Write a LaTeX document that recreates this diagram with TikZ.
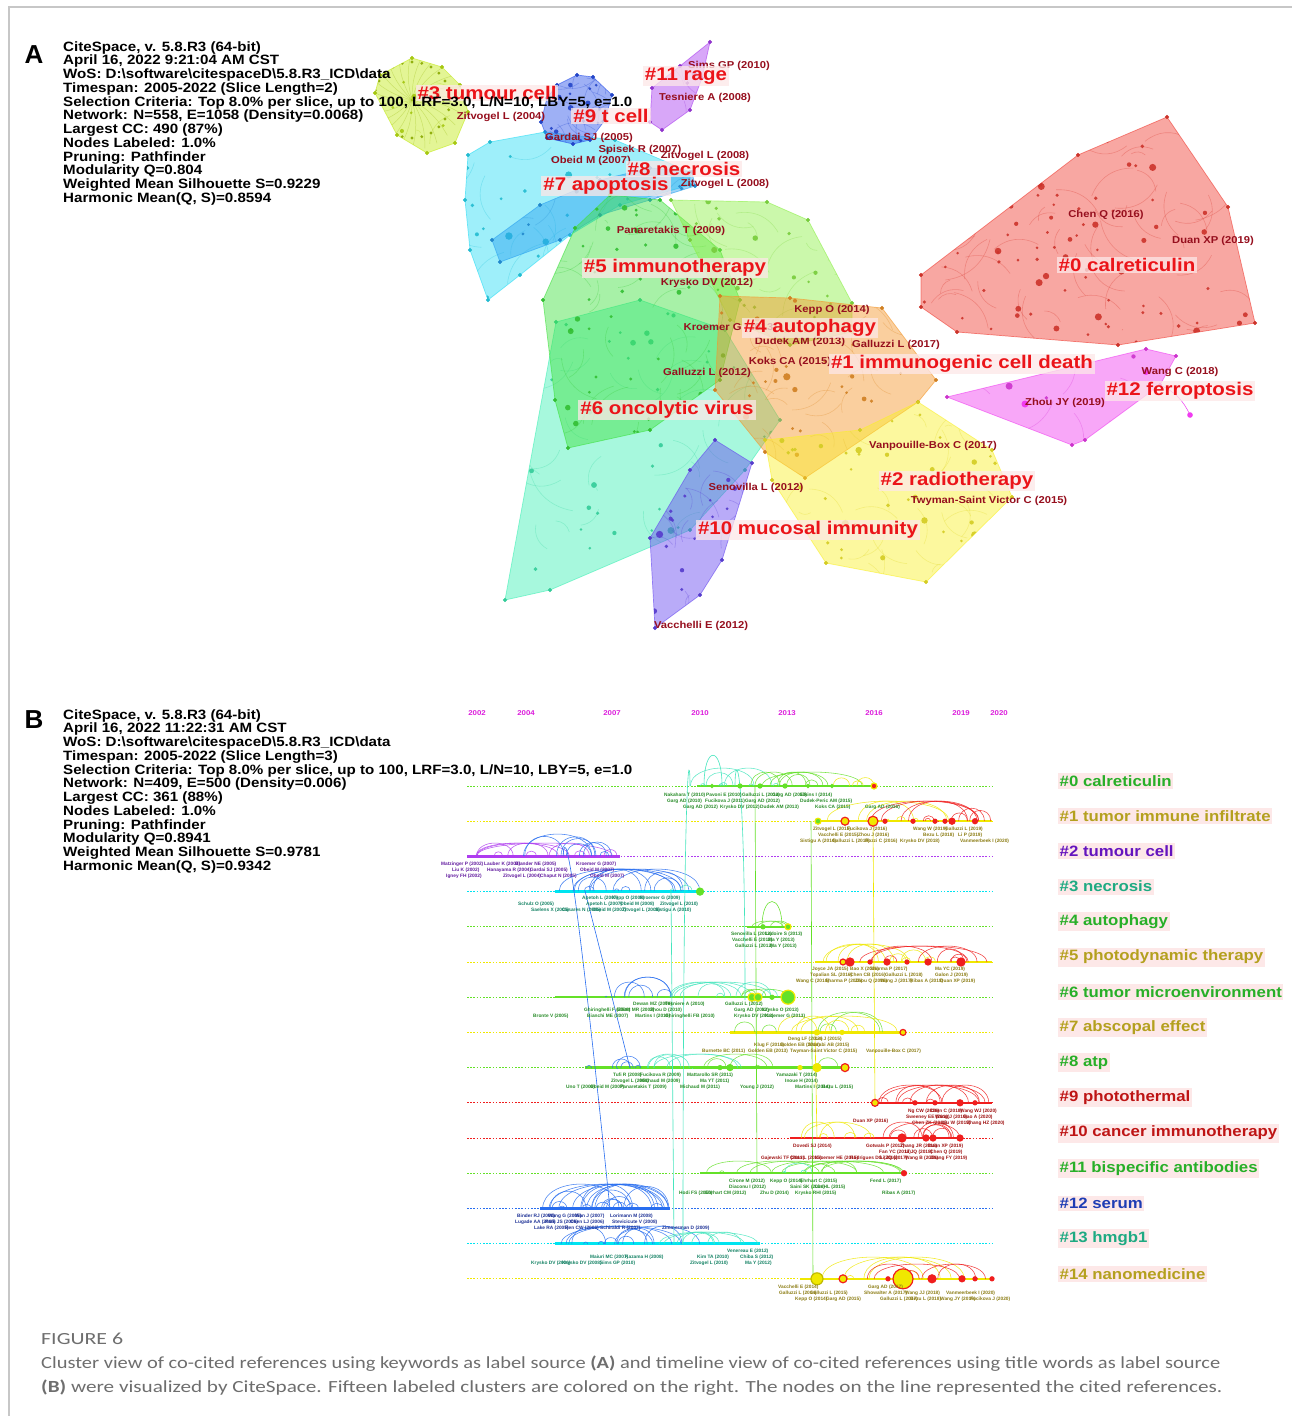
\documentclass[tikz,border=0pt]{standalone}
\usepackage{fontspec}
\setmainfont{Liberation Sans}
\newfontfamily\wide[FakeStretch=1.12]{Liberation Sans}
\newfontfamily\capfont{Carlito}
\usepackage{graphicx}

\definecolor{labred}{RGB}{235,20,25}
\definecolor{refred}{RGB}{150,15,30}
\definecolor{pinkbg}{RGB}{253,232,232}
\definecolor{capgray}{RGB}{110,110,110}
\definecolor{yrmag}{RGB}{220,30,220}
\definecolor{cA}{RGB}{240,60,50}
\definecolor{cB}{RGB}{245,150,40}
\definecolor{cC}{RGB}{250,240,40}
\definecolor{cD}{RGB}{195,235,20}
\definecolor{cE}{RGB}{140,240,70}
\definecolor{cF}{RGB}{60,225,60}
\definecolor{cG}{RGB}{60,240,180}
\definecolor{cH}{RGB}{40,220,245}
\definecolor{cI}{RGB}{40,160,240}
\definecolor{cJ}{RGB}{40,80,235}
\definecolor{cK}{RGB}{100,70,240}
\definecolor{cL}{RGB}{170,60,240}
\definecolor{cM}{RGB}{240,60,240}
\definecolor{tgreen}{RGB}{100,225,40}
\definecolor{tyellow}{RGB}{240,232,0}
\definecolor{tpurple}{RGB}{175,60,240}
\definecolor{tcyan}{RGB}{0,228,240}
\definecolor{tcyanB}{RGB}{70,230,190}
\definecolor{tred}{RGB}{240,30,30}
\definecolor{tblue}{RGB}{40,110,240}
\definecolor{lgreen}{RGB}{40,175,40}
\definecolor{lolive}{RGB}{180,160,30}
\definecolor{lpurple}{RGB}{100,20,190}
\definecolor{lteal}{RGB}{30,170,130}
\definecolor{ldred}{RGB}{190,20,20}
\definecolor{lblue}{RGB}{30,60,180}
\definecolor{tlg}{RGB}{40,140,40}
\definecolor{tlo}{RGB}{140,125,20}
\definecolor{tlp}{RGB}{100,30,160}
\definecolor{tlt}{RGB}{20,130,100}
\definecolor{tlr}{RGB}{160,20,20}
\definecolor{tlb}{RGB}{30,50,150}

\tikzset{
  hdr/.style={anchor=base west, inner sep=0pt, font=\wide\bfseries\fontsize{13.5}{14}\selectfont},
  panel/.style={anchor=base, inner sep=0pt, font=\bfseries\fontsize{26}{26}\selectfont},
  clab/.style={text=labred, fill=pinkbg, fill opacity=0.75, text opacity=1, inner xsep=2pt, inner ysep=1.5pt, font=\wide\bfseries\fontsize{18.3}{18.3}\selectfont},
  rlab/.style={text=refred, inner sep=0.5pt, font=\wide\bfseries\fontsize{10}{10}\selectfont},
  rowlab/.style={anchor=west, fill=pinkbg, inner xsep=1.5pt, inner ysep=2.5pt, font=\wide\bfseries\fontsize{15}{15}\selectfont},
  yearlab/.style={text=yrmag, inner sep=0pt, font=\wide\bfseries\fontsize{7}{7}\selectfont},
  tl/.style={anchor=west, inner sep=0pt, font=\bfseries\fontsize{4.8}{5}\selectfont},
  capt/.style={anchor=base west, inner sep=0pt, text=capgray, font=\capfont\fontsize{17}{17}\selectfont},
}

% cluster polygon with random nodes and curved edges
\newcommand\clusterpoly[9]{%
  \fill[#1, fill opacity=0.45] plot coordinates {#2} -- cycle;
  \draw[#1, opacity=0.6, line width=0.7pt] plot coordinates {#2} -- cycle;
  \begin{scope}
    \clip plot coordinates {#2} -- cycle;
    \pgfmathsetseed{#9}
    \foreach \k in {1,...,#8}{
      \pgfmathsetmacro\ax{#3+rnd*(#4-#3)}
      \pgfmathsetmacro\ay{#5+rnd*(#6-#5)}
      \pgfmathsetmacro\bx{\ax+(rnd-0.5)*90}
      \pgfmathsetmacro\by{\ay+(rnd-0.5)*90}
      \draw[#1!90!black, opacity=0.3, line width=0.6pt] (\ax,\ay) to[bend left=35] (\bx,\by);
    }
    \foreach \k in {1,...,#7}{
      \pgfmathsetmacro\ax{#3+rnd*(#4-#3)}
      \pgfmathsetmacro\ay{#5+rnd*(#6-#5)}
      \pgfmathsetmacro\rr{1.4+2.6*rnd*rnd}
      \fill[#1!85!black, opacity=0.9] (\ax,\ay) circle[radius=\rr];
    }
  \end{scope}
  \draw[color=#1!85!black] plot[only marks, mark=*, mark size=1.8pt] coordinates {#2};
}

% timeline arcs
\newcommand\tarcs[7]{%
  \pgfmathsetseed{#6}
  \foreach \k in {1,...,#5}{
    \pgfmathsetmacro\ax{#2+rnd*(#3-#2)}
    \pgfmathsetmacro\bx{#2+rnd*(#3-#2)}
    \pgfmathsetmacro\hh{min(abs(\bx-\ax)*0.5,#7)*1.33}
    \draw[#4, line width=0.55pt, opacity=0.85] (\ax,#1) .. controls (\ax,#1-\hh) and (\bx,#1-\hh) .. (\bx,#1);
  }
}

\newcommand\tls[2]{\foreach \x/\y/\t in {#2}{\node[tl, text=#1] at (\x,\y) {\t};}}

\begin{document}
\begin{tikzpicture}[x=1pt,y=-1pt]
\useasboundingbox (0,0) rectangle (1292,1416);
\fill[white] (0,0) rectangle (1292,1416);
\draw[black!22, line width=1.5pt] (9,1416) -- (9,7) -- (1292,7);

% ================= PANEL A =================
\clusterpoly{cG}{(505,600) (556,322) (640,300) (725,330) (780,420) (745,470) (690,530) (550,590)}{505}{780}{300}{600}{45}{40}{11}
\clusterpoly{cH}{(468,155) (490,142) (545,132) (615,140) (690,172) (690,185) (620,205) (570,235) (520,275) (488,300) (470,250) (465,200)}{465}{690}{132}{300}{32}{26}{12}
\clusterpoly{cI}{(492,240) (540,205) (600,180) (650,168) (692,172) (695,186) (650,200) (600,215) (560,240) (500,262)}{492}{695}{168}{262}{15}{10}{13}
\clusterpoly{cJ}{(547,98) (557,85) (577,75) (593,77) (612,95) (605,120) (590,140) (573,144) (547,138) (541,122)}{541}{612}{75}{144}{22}{22}{14}
\clusterpoly{cD}{(412,58) (442,67) (460,85) (468,112) (455,143) (427,153) (397,135) (375,93) (380,75)}{375}{468}{58}{153}{14}{4}{15}
\begin{scope}
  \clip plot coordinates {(412,58) (442,67) (460,85) (468,112) (455,143) (427,153) (397,135) (375,93) (380,75)} -- cycle;
  \foreach \a in {0,15,...,345}{
    \draw[cD!80!black, opacity=0.35, line width=0.5pt] (412,100) to[bend left=15] ++(\a:50);
    \fill[cD!75!black] (412,100) ++(\a:38) circle[radius=1.6];
  }
\end{scope}
\clusterpoly{cL}{(710,42) (680,66) (652,88) (650,122) (662,130) (690,110) (702,78)}{650}{710}{42}{130}{9}{7}{16}
\clusterpoly{cF}{(543,300) (575,228) (610,195) (660,200) (720,250) (740,300) (720,380) (650,430) (568,448) (555,400)}{543}{740}{195}{448}{55}{45}{17}
\clusterpoly{cE}{(671,200) (767,202) (808,220) (852,303) (852,332) (790,345) (730,320) (690,240)}{671}{852}{200}{345}{30}{25}{18}
\clusterpoly{cB}{(720,296) (790,298) (882,308) (936,380) (918,402) (805,478) (765,452) (715,390)}{715}{936}{296}{478}{45}{35}{19}
\clusterpoly{cC}{(765,440) (860,430) (918,402) (992,450) (1012,497) (926,582) (826,563) (772,480)}{765}{1012}{402}{582}{45}{32}{20}
\clusterpoly{cK}{(715,440) (752,463) (722,560) (700,595) (655,628) (650,538) (690,470)}{650}{752}{440}{628}{26}{26}{21}
\clusterpoly{cA}{(1167,117) (1228,207) (1255,323) (1118,345) (957,332) (921,307) (921,275) (1078,155)}{921}{1255}{117}{345}{95}{75}{22}
\clusterpoly{cM}{(947,397) (1146,349) (1176,356) (1160,385) (1085,440) (1072,445)}{947}{1176}{349}{445}{12}{8}{23}
\draw[cM, line width=0.5pt] (1160,385) to[bend left=20] (1190,415);
\fill[cM] (1190,415) circle[radius=2.8];
\fill[cM] (1025,404) circle[radius=3.5];
\fill[cM] (1146,372) circle[radius=3];

% reference labels
\node[rlab] (r1) at (729,66) {Sims GP (2010)};
\node[rlab] (r2) at (705,98) {Tesniere A (2008)};
\node[rlab] (r3) at (501,117) {Zitvogel L (2004)};
\node[rlab] (r4) at (589,138) {Gardai SJ (2005)};
\node[rlab] (r5) at (640,150) {Spisek R (2007)};
\node[rlab] (r6) at (705,156) {Zitvogel L (2008)};
\node[rlab] (r7) at (591,161) {Obeid M (2007)};
\node[rlab] (r8) at (725,184) {Zitvogel L (2008)};
\node[rlab] (r9) at (671,231) {Panaretakis T (2009)};
\node[rlab] (r10) at (707,283) {Krysko DV (2012)};
\node[rlab] (r11) at (832,310) {Kepp O (2014)};
\node[rlab, anchor=west] (r12) at (683,328) {Kroemer G (2013)};
\node[rlab] (r13) at (800,342) {Dudek AM (2013)};
\node[rlab] (r14) at (896,345) {Galluzzi L (2017)};
\node[rlab] (r15) at (790,362) {Koks CA (2015)};
\node[rlab] (r16) at (707,373) {Galluzzi L (2012)};
\node[rlab] (r17) at (1106,215) {Chen Q (2016)};
\node[rlab] (r18) at (1213,241) {Duan XP (2019)};
\node[rlab] (r19) at (1180,372) {Wang C (2018)};
\node[rlab] (r20) at (1065,403) {Zhou JY (2019)};
\node[rlab] (r21) at (933,446) {Vanpouille-Box C (2017)};
\node[rlab] (r22) at (756,488) {Senovilla L (2012)};
\node[rlab] (r23) at (989,501) {Twyman-Saint Victor C (2015)};
\node[rlab] (r24) at (701,626) {Vacchelli E (2012)};

% cluster labels
\node[clab] (k3) at (487,93) {\#3 tumour cell};
\node[clab] (k11) at (686,76) {\#11 rage};
\node[clab] (k9) at (611,116) {\#9 t cell};
\node[clab] (k8) at (684,169) {\#8 necrosis};
\node[clab] (k7) at (606,186) {\#7 apoptosis};
\node[clab] (k5) at (675,268) {\#5 immunotherapy};
\node[clab] (k0) at (1127,265) {\#0 calreticulin};
\node[clab] (k4) at (810,328) {\#4 autophagy};
\node[clab] (k1) at (962,364) {\#1 immunogenic cell death};
\node[clab] (k12) at (1180,391) {\#12 ferroptosis};
\node[clab] (k6) at (667,410) {\#6 oncolytic virus};
\node[clab] (k2) at (957,481) {\#2 radiotherapy};
\node[clab] (k10) at (808,530) {\#10 mucosal immunity};

% header A
\node[panel] (pA) at (34,63) {A};
\foreach \t [count=\k from 0] in {{CiteSpace, v. 5.8.R3 (64-bit)},{April 16, 2022 9:21:04 AM CST},{WoS: D:\textbackslash software\textbackslash citespaceD\textbackslash 5.8.R3\_ICD\textbackslash data},{Timespan: 2005-2022 (Slice Length=2)},{Selection Criteria: Top 8.0\% per slice, up to 100, LRF=3.0, L/N=10, LBY=5, e=1.0},{Network: N=558, E=1058 (Density=0.0068)},{Largest CC: 490 (87\%)},{Nodes Labeled: 1.0\%},{Pruning: Pathfinder},{Modularity Q=0.804},{Weighted Mean Silhouette S=0.9229},{Harmonic Mean(Q, S)=0.8594}}
  \node[hdr] (hA\k) at (63,51+13.75*\k) {\t};

% ================= PANEL B =================
\node[panel] (pB) at (34,728) {B};
\foreach \t [count=\k from 0] in {{CiteSpace, v. 5.8.R3 (64-bit)},{April 16, 2022 11:22:31 AM CST},{WoS: D:\textbackslash software\textbackslash citespaceD\textbackslash 5.8.R3\_ICD\textbackslash data},{Timespan: 2005-2022 (Slice Length=3)},{Selection Criteria: Top 8.0\% per slice, up to 100, LRF=3.0, L/N=10, LBY=5, e=1.0},{Network: N=409, E=500 (Density=0.006)},{Largest CC: 361 (88\%)},{Nodes Labeled: 1.0\%},{Pruning: Pathfinder},{Modularity Q=0.8941},{Weighted Mean Silhouette S=0.9781},{Harmonic Mean(Q, S)=0.9342}}
  \node[hdr] (hB\k) at (63,719+13.75*\k) {\t};

% years
\foreach \x/\yr in {477/2002,526/2004,612/2007,700/2010,787/2013,874/2016,961/2019,999/2020}
  \node[yearlab] (yr\yr) at (\x,713) {\yr};

% dashed rows and solid segments
\foreach \i/\dc/\xa/\xb in {0/tgreen/697/875,1/tyellow/818/992,2/tpurple/467/620,3/tcyan/555/700,4/tgreen/747/790,5/tyellow/815/992,6/tgreen/555/790,7/tyellow/730/905,8/tgreen/585/845,9/tred/875/992,10/tred/790/960,11/tgreen/700/905,12/tblue/540/670,13/tcyan/555/760,14/tyellow/800/992}{
  \pgfmathsetmacro\yy{786+35.2*\i}
  \draw[\dc, line width=0.9pt, dash pattern=on 1.6pt off 1.6pt] (467,\yy) -- (992,\yy);
  \draw[\dc, line width=2.4pt] (\xa,\yy) -- (\xb,\yy);
}

% arcs
\tarcs{786}{690}{800}{tcyanB}{8}{31}{18}
\tarcs{786}{740}{875}{tgreen}{8}{32}{14}
\tarcs{786}{830}{875}{tyellow}{3}{33}{10}
\tarcs{821}{818}{960}{tyellow}{6}{34}{20}
\tarcs{821}{860}{992}{tred}{10}{35}{20}
\tarcs{856}{467}{620}{tpurple}{10}{36}{13}
\tarcs{856}{520}{620}{tblue}{8}{37}{22}
\tarcs{891}{555}{700}{tblue}{13}{38}{22}
\tarcs{891}{670}{700}{tcyanB}{2}{39}{8}
\tarcs{927}{747}{790}{tgreen}{4}{40}{6}
\draw[tgreen, line width=0.55pt] (762,927) .. controls (762,893) and (782,893) .. (782,927);
\tarcs{962}{815}{960}{tyellow}{8}{41}{18}
\tarcs{962}{850}{992}{tred}{8}{42}{16}
\tarcs{997}{555}{680}{tblue}{6}{43}{20}
\tarcs{997}{660}{780}{tcyanB}{8}{44}{15}
\tarcs{997}{740}{790}{tgreen}{4}{45}{8}
\tarcs{1032}{730}{905}{tgreen}{5}{46}{20}
\tarcs{1032}{760}{905}{tyellow}{6}{47}{16}
\tarcs{1068}{585}{660}{tblue}{6}{48}{12}
\tarcs{1068}{640}{760}{tcyanB}{6}{49}{14}
\tarcs{1068}{700}{845}{tgreen}{5}{50}{14}
\tarcs{1103}{875}{992}{tred}{12}{51}{18}
\tarcs{1138}{800}{900}{tyellow}{6}{52}{16}
\tarcs{1138}{880}{960}{tred}{8}{53}{16}
\tarcs{1173}{700}{905}{tgreen}{10}{54}{12}
\tarcs{1173}{760}{850}{tcyanB}{3}{55}{10}
\tarcs{1209}{540}{670}{tblue}{22}{56}{25}
\tarcs{1244}{555}{700}{tblue}{12}{57}{18}
\tarcs{1244}{650}{760}{tcyanB}{6}{58}{12}
\tarcs{1279}{810}{992}{tyellow}{8}{59}{22}
\tarcs{1279}{850}{992}{tred}{6}{60}{15}

% long connectors between rows
\coordinate (v1a) at (683,1244); \coordinate (v1b) at (690,786);
\draw[tcyanB, line width=0.6pt] (v1a) .. controls (683,745) and (690,745) .. (v1b);
\coordinate (v2a) at (704,786); \coordinate (v2b) at (722,786);
\draw[tcyanB, line width=0.6pt] (v2a) .. controls (704,745) and (722,745) .. (v2b);
\coordinate (v3a) at (735,786); \coordinate (v3b) at (745,1000);
\draw[tcyanB, line width=0.6pt] (v3a) .. controls (735,752) and (745,752) .. (v3b);
\coordinate (v4a) at (671,891); \coordinate (v4b) at (674,1244);
\draw[tcyanB, line width=0.6pt] (v4a) -- (v4b);
\coordinate (v5a) at (755,786); \coordinate (v5b) at (757,1173);
\draw[tgreen, line width=0.6pt] (v5a) -- (v5b);
\coordinate (v6a) at (811,821); \coordinate (v6b) at (813,1279);
\draw[tgreen, line width=0.6pt] (v6a) -- (v6b);
\coordinate (v7a) at (873,821); \coordinate (v7b) at (875,1103);
\draw[tyellow, line width=0.6pt] (v7a) -- (v7b);
\coordinate (v8a) at (815,1032); \coordinate (v8b) at (817,1138);
\draw[tyellow, line width=0.6pt] (v8a) -- (v8b);
\coordinate (v9a) at (563,856); \coordinate (v9b) at (610,1209);
\draw[tblue, line width=0.6pt] (v9a) .. controls (565,830) and (572,840) .. (v9b);
\coordinate (v10a) at (585,891); \coordinate (v10b) at (630,1068);
\draw[tblue, line width=0.6pt] (v10a) -- (v10b);

% row nodes
\foreach \x/\i/\r/\f/\d in {712/0/1.5/tgreen/tgreen,740/0/2/tgreen/tgreen,760/0/2/tgreen/tgreen,785/0/2/tgreen/tgreen,808/0/1.5/tgreen/tgreen,832/0/1.5/tgreen/tgreen,874/0/3/tred/tyellow,
  818/1/3/tgreen/tyellow,845/1/4/tyellow/tred,873/1/5/tyellow/tred,885/1/2/tred/tred,913/1/2/tred/tred,935/1/2/tred/tred,945/1/2/tred/tred,952/1/3/tred/tred,975/1/2.5/tred/tred,
  700/3/3.5/tgreen/tgreen,763/4/2/tgreen/tgreen,788/4/3/tgreen/tyellow,
  843/5/3/tyellow/tred,850/5/4/tred/tred,870/5/2/tred/tred,887/5/3/tred/tred,907/5/2/tred/tred,928/5/3/tred/tred,961/5/4/tred/tred,
  752/6/4/tgreen/tyellow,758/6/4/tgreen/tyellow,772/6/2/tgreen/tgreen,788/6/7/tgreen/tyellow,
  817/7/2.5/tyellow/tyellow,842/7/2/tyellow/tyellow,903/7/3/tyellow/tred,
  720/8/2/tgreen/tgreen,730/8/3/tgreen/tgreen,800/8/2/tyellow/tyellow,817/8/4/tyellow/tyellow,845/8/4/tyellow/tred,
  875/9/3.5/tyellow/tred,915/9/2/tred/tred,935/9/2/tred/tred,960/9/3/tred/tred,975/9/2/tred/tred,
  902/10/4/tred/tred,926/10/3/tred/tred,933/10/3/tred/tred,960/10/3/tred/tred,
  904/11/2.5/tred/tred,
  817/14/6/tyellow/tyellow!80!black,843/14/4/tyellow/tred,888/14/2/tred/tred,903/14/10/tyellow/tred,932/14/4/tred/tred,962/14/3/tred/tred,975/14/2/tred/tred,992/14/2/tred/tred}{
  \pgfmathsetmacro\yy{786+35.2*\i}
  \filldraw[fill=\f, draw=\d, line width=1.2pt] (\x,\yy) circle[radius=\r];
}

% tiny reference labels on the timeline
\tls{tlg}{664/795/Nakahara T (2010),706/795/Pavoni E (2010),742/795/Galluzzi L (2012),772/795/Garg AD (2013),800/795/Elkins I (2014),
 667/801/Garg AD (2010),705/801/Fucikova J (2011),745/801/Garg AD (2012),800/801/Dudek-Peric AM (2015),
 683/807/Garg AD (2012),720/807/Krysko DV (2012),760/807/Dudek AM (2013),815/807/Koks CA (2015),865/807/Garg AD (2016)}
\tls{tlo}{813/829/Zitvogel L (2015),847/829/Fucikova J (2016),913/829/Wang W (2019),945/829/Galluzzi L (2019),
 818/835/Vacchelli E (2015),858/835/Zhou J (2016),923/835/Bezu L (2018),958/835/Li P (2019),
 800/841/Sistigu A (2014),832/841/Galluzzi L (2015),865/841/Pozzi C (2016),900/841/Krysko DV (2018),960/841/Vanmeerbeek I (2020)}
\tls{tlp}{441/864/Matzinger P (2002),484/864/Lauber K (2003),515/864/Blander NE (2005),576/864/Kroemer G (2007),
 452/870/Liu K (2002),487/870/Hanayama R (2004),530/870/Gardai SJ (2005),580/870/Obeid M (2007),
 446/876/Igney FH (2002),503/876/Zitvogel L (2004),540/876/Chaput N (2005),590/876/Obeid M (2007)}
\tls{tlt}{582/898/Apetoh L (2007),612/898/Kepp O (2009),640/898/Kroemer G (2009),
 518/904/Schulz O (2005),586/904/Apetoh L (2007),620/904/Obeid M (2008),660/904/Zitvogel L (2010),
 531/910/Saelens X (2005),562/910/Casares N (2005),592/910/Obeid M (2007),622/910/Zitvogel L (2008),655/910/Sistigu A (2010)}
\tls{tlg}{731/934/Senovilla L (2012),765/934/Ladoire S (2013),732/940/Vacchelli E (2012),768/940/Ma Y (2013),735/946/Galluzzi L (2012),770/946/Ma Y (2013)}
\tls{tlo}{812/969/Joyce JA (2015),850/969/Bao X (2016),870/969/Sharma P (2017),935/969/Ma YC (2019),
 810/975/Topalian SL (2016),850/975/Chen CB (2016),885/975/Galluzzi L (2018),935/975/Galon J (2019),
 796/981/Wang C (2014),825/981/Sharma P (2016),855/981/Zhou Q (2016),880/981/Wang J (2017),910/981/Ribas A (2018),940/981/Duan XP (2019)}
\tls{tlg}{633/1004/Dewan MZ (2009),665/1004/Tesniere A (2010),725/1004/Galluzzi L (2012),
 584/1010/Ghiringhelli F (2009),617/1010/Elliott MR (2009),650/1010/Zhou D (2010),734/1010/Garg AD (2012),762/1010/Krysko O (2013),
 533/1016/Bronte V (2005),587/1016/Bianchi ME (2007),635/1016/Martins I (2010),665/1016/Ghiringhelli FB (2010),734/1016/Krysko DV (2012),765/1016/Kroemer G (2013)}
\tls{tlo}{788/1039/Deng LF (2014),815/1039/Lin J (2015),754/1045/Klug F (2013),780/1045/Golden EB (2014),808/1045/Sharabi AB (2015),
 702/1051/Burnette BC (2011),748/1051/Golden EB (2013),790/1051/Twyman-Saint Victor C (2015),866/1051/Vanpouille-Box C (2017)}
\tls{tlg}{613/1075/Tufi R (2008),640/1075/Fucikova R (2009),687/1075/Mattarollo SR (2011),776/1075/Yamazaki T (2014),
 611/1081/Zitvogel L (2008),640/1081/Michaud M (2009),700/1081/Ma YT (2011),785/1081/Inoue H (2014),
 566/1087/Uno T (2006),590/1087/Obeid M (2007),620/1087/Panaretakis T (2009),680/1087/Michaud M (2011),740/1087/Young J (2012),795/1087/Martins I (2014),822/1087/Bezu L (2015)}
\tls{tlr}{908/1111/Ng CW (2018),930/1111/Chen C (2018),960/1111/Wang WJ (2020),906/1117/Sweeney EE (2018),935/1117/Wang J (2019),963/1117/Gao A (2020),
 912/1123/Chen ZK (2018),942/1123/Liu W (2019),967/1123/Zhang HZ (2020)}
\tls{tlr}{853/1121/Duan XP (2016),793/1146/Dovedi SJ (2014),866/1146/Gotwals P (2017),900/1146/Zhang JR (2018),928/1146/Duan XP (2019),
 879/1152/Fan YC (2018),905/1152/Li JQ (2018),930/1152/Chen Q (2019),
 761/1158/Gajewski TF (2013),790/1158/Chen L (2015),815/1158/Kroemer HE (2015),850/1158/Rodrigues DG (2016),880/1158/Li JQ (2017),905/1158/Wang B (2018),930/1158/Zhang FY (2019)}
\tls{tlg}{729/1181/Cirone M (2012),770/1181/Kepp O (2014),800/1181/Ehrhart C (2015),870/1181/Fend L (2017),
 729/1187/Diaconu I (2012),790/1187/Saini SK (2014),815/1187/Lin HL (2015),
 679/1193/Hodi FS (2010),705/1193/Ehrhart CM (2012),760/1193/Zhu D (2014),795/1193/Krysko RHI (2015),882/1193/Ribas A (2017)}
\tls{tlb}{517/1216/Binder RJ (2000),548/1216/Wang G (2005),575/1216/Wan J (2007),610/1216/Lorimann M (2008),
 515/1222/Lugade AA (2005),545/1222/Park JS (2006),570/1222/Chen LJ (2006),612/1222/Stevicicute V (2008),
 534/1228/Lake RA (2005),565/1228/Ren CW (2006),600/1228/Schiraldi R (2007),662/1228/Zimmerman D (2009)}
\tls{tlt}{727/1251/Venereau E (2012),590/1257/Maiuri MC (2007),625/1257/Kazama H (2008),697/1257/Kim TA (2010),740/1257/Chiba S (2012),
 531/1263/Krysko DV (2006),562/1263/Krysko DV (2008),600/1263/Sims GP (2010),690/1263/Zitvogel L (2010),745/1263/Ma Y (2012)}
\tls{tlo}{778/1287/Vacchelli E (2014),868/1287/Garg AD (2017),779/1293/Galluzzi L (2014),810/1293/Galluzzi L (2015),864/1293/Showalter A (2017),905/1293/Wang JJ (2018),946/1293/Vanmeerbeek I (2020),
 795/1299/Kepp O (2014),826/1299/Garg AD (2015),880/1299/Galluzzi L (2017),910/1299/Bezu L (2018),940/1299/Wang JY (2019),970/1299/Fucikova J (2020)}

% row labels
\foreach \i/\c/\t in {0/lgreen/{\#0 calreticulin},1/lolive/{\#1 tumor immune infiltrate},2/lpurple/{\#2 tumour cell},3/lteal/{\#3 necrosis},4/lgreen/{\#4 autophagy},5/lolive/{\#5 photodynamic therapy},6/lgreen/{\#6 tumor microenvironment},7/lolive/{\#7 abscopal effect},8/lgreen/{\#8 atp},9/ldred/{\#9 photothermal},10/ldred/{\#10 cancer immunotherapy},11/lgreen/{\#11 bispecific antibodies},12/lblue/{\#12 serum},13/lteal/{\#13 hmgb1},14/lolive/{\#14 nanomedicine}}
  \node[rowlab, text=\c] (row\i) at (1058,781+35.2*\i) {\t};

% caption
\node[capt] (fig) at (41,1344) {\resizebox{82pt}{\height}{FIGURE 6}};
\node[capt] (cap1) at (41,1368) {\resizebox{1179pt}{\height}{Cluster view of co-cited references using keywords as label source \textbf{(A)} and timeline view of co-cited references using title words as label source}};
\node[capt] (cap2) at (41,1392) {\resizebox{1181pt}{\height}{\textbf{(B)} were visualized by CiteSpace. Fifteen labeled clusters are colored on the right. The nodes on the line represented the cited references.}};
\end{tikzpicture}
\end{document}
